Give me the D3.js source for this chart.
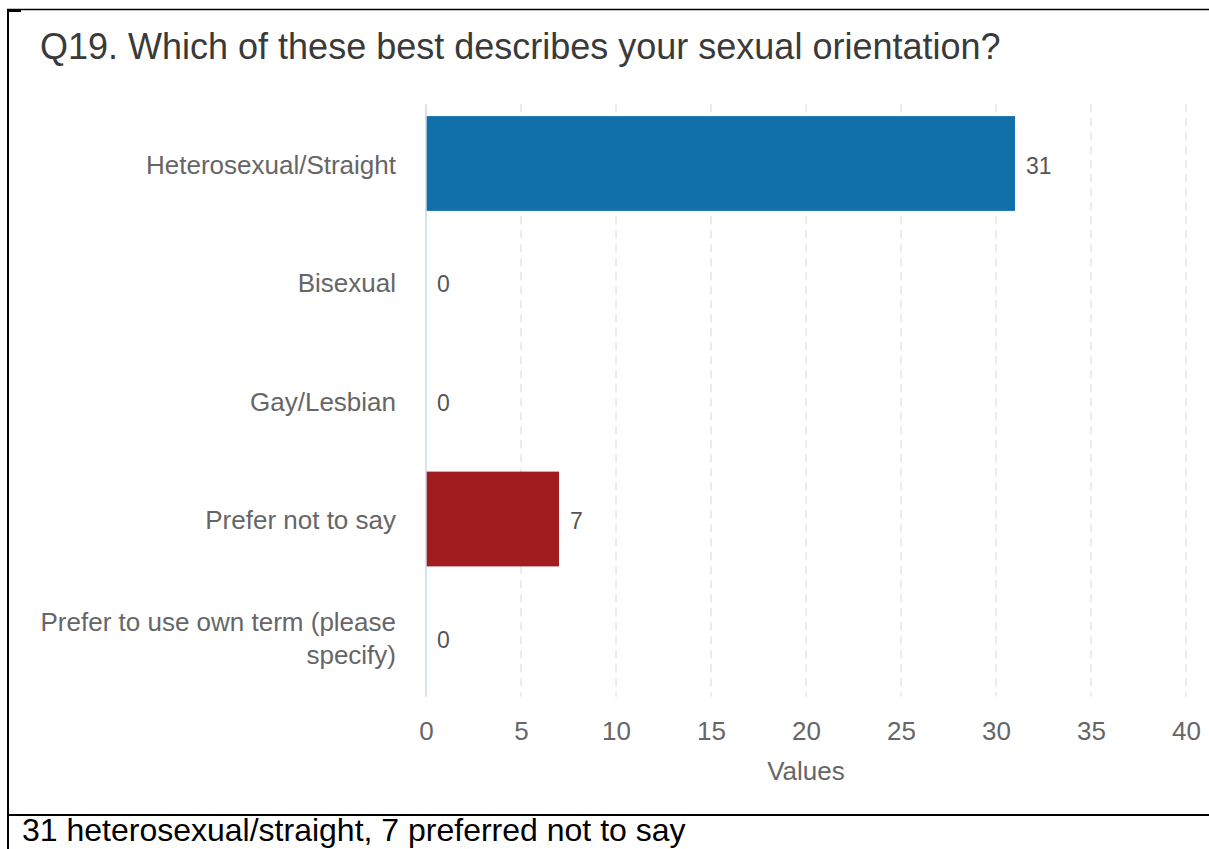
<!DOCTYPE html>
<html>
<head>
<meta charset="utf-8">
<script src="https://cdn.jsdelivr.net/npm/d3@7"></script>
<style>
  html, body { margin: 0; padding: 0; background: #fff; }
  svg { display: block; font-family: "Liberation Sans", Arial, sans-serif; }
</style>
</head>
<body>
<svg id="chart" width="1209" height="849"></svg>
<script>
// Survey responses, Q19
const categories = [
  "Heterosexual/Straight",
  "Bisexual",
  "Gay/Lesbian",
  "Prefer not to say",
  "Prefer to use own term (please specify)"
];
const counts = [31, 0, 0, 7, 0];
const barColors = ["#1170aa", "#1170aa", "#1170aa", "#a11c1e", "#1170aa"];
const xTicks = [0, 5, 10, 15, 20, 25, 30, 35, 40];
const titleText = "Q19. Which of these best describes your sexual orientation?";
const axisTitle = "Values";
const caption = "31 heterosexual/straight, 7 preferred not to say";

const svg = d3.select("#chart");

// Table-cell frame around the chart and caption
svg.append("line").attr("x1", 7).attr("x2", 1209).attr("y1", 9.5).attr("y2", 9.5)
  .attr("stroke", "#000").attr("stroke-width", 1.5);
svg.append("line").attr("x1", 8).attr("x2", 8).attr("y1", 9).attr("y2", 849)
  .attr("stroke", "#000").attr("stroke-width", 2);
svg.append("rect").attr("x", 7).attr("y", 9).attr("width", 14).attr("height", 3).attr("fill", "#000");
svg.append("line").attr("x1", 7).attr("x2", 1209).attr("y1", 815).attr("y2", 815)
  .attr("stroke", "#000").attr("stroke-width", 2);

const plot = { left: 426, right: 1186, top: 104.25, bottom: 696.75 };

const x = d3.scaleLinear().domain([0, 40]).range([plot.left, plot.right]);
const y = d3.scaleBand().domain(categories).range([plot.top, plot.bottom]).paddingInner(0.2).paddingOuter(0.1);

// Title
svg.append("text")
  .attr("x", 40).attr("y", 59)
  .attr("font-size", 36).attr("fill", "#3a3a3a")
  .text(titleText);

// Dashed vertical gridlines
svg.append("g").selectAll("line")
  .data(xTicks.filter(d => d !== 0))
  .join("line")
  .attr("x1", d => x(d)).attr("x2", d => x(d))
  .attr("y1", plot.top).attr("y2", plot.bottom)
  .attr("stroke", "#d8d8d8").attr("stroke-width", 1)
  .attr("stroke-dasharray", "8,6");

// Bars
svg.append("g").selectAll("rect")
  .data(categories)
  .join("rect")
  .attr("x", x(0))
  .attr("y", d => y(d))
  .attr("width", (d, i) => x(counts[i]) - x(0))
  .attr("height", y.bandwidth())
  .attr("fill", (d, i) => barColors[i]);

// Category axis line
svg.append("line")
  .attr("x1", x(0)).attr("x2", x(0))
  .attr("y1", plot.top).attr("y2", plot.bottom)
  .attr("stroke", "#ccd6eb").attr("stroke-width", 1.5);

// Value labels
svg.append("g").selectAll("text")
  .data(categories)
  .join("text")
  .attr("x", (d, i) => x(counts[i]) + 11)
  .attr("y", d => y(d) + y.bandwidth() / 2 + 2)
  .attr("dy", "0.35em")
  .attr("font-size", 23).attr("fill", "#555")
  .text((d, i) => counts[i]);

// Category labels (wrapped where long)
const catLines = {
  "Prefer to use own term (please specify)": ["Prefer to use own term (please", "specify)"]
};
const catG = svg.append("g");
categories.forEach(c => {
  const lines = catLines[c] || [c];
  const cy = y(c) + y.bandwidth() / 2 + 1;
  const lh = 33;
  const t = catG.append("text")
    .attr("text-anchor", "end")
    .attr("font-size", 26).attr("fill", "#666");
  lines.forEach((ln, k) => {
    t.append("tspan")
      .attr("x", 396)
      .attr("y", cy + (k - (lines.length - 1) / 2) * lh)
      .attr("dy", "0.35em")
      .text(ln);
  });
});

// X axis tick labels
const xAxis = d3.axisBottom(x).tickValues(xTicks).tickSize(0).tickPadding(0);
const xg = svg.append("g").attr("transform", `translate(0, ${plot.bottom})`).call(xAxis);
xg.select(".domain").remove();
xg.selectAll("text")
  .attr("y", 34).attr("dy", "0.35em")
  .attr("font-size", 26).attr("fill", "#666")
  .attr("font-family", "Liberation Sans, Arial, sans-serif");

// X axis title
svg.append("text")
  .attr("x", (plot.left + plot.right) / 2).attr("y", 771)
  .attr("dy", "0.35em")
  .attr("text-anchor", "middle")
  .attr("font-size", 26).attr("fill", "#666")
  .text(axisTitle);

// Caption beneath the chart
svg.append("text")
  .attr("x", 22).attr("y", 841)
  .attr("font-size", 32).attr("fill", "#000")
  .text(caption);
</script>
</body>
</html>
